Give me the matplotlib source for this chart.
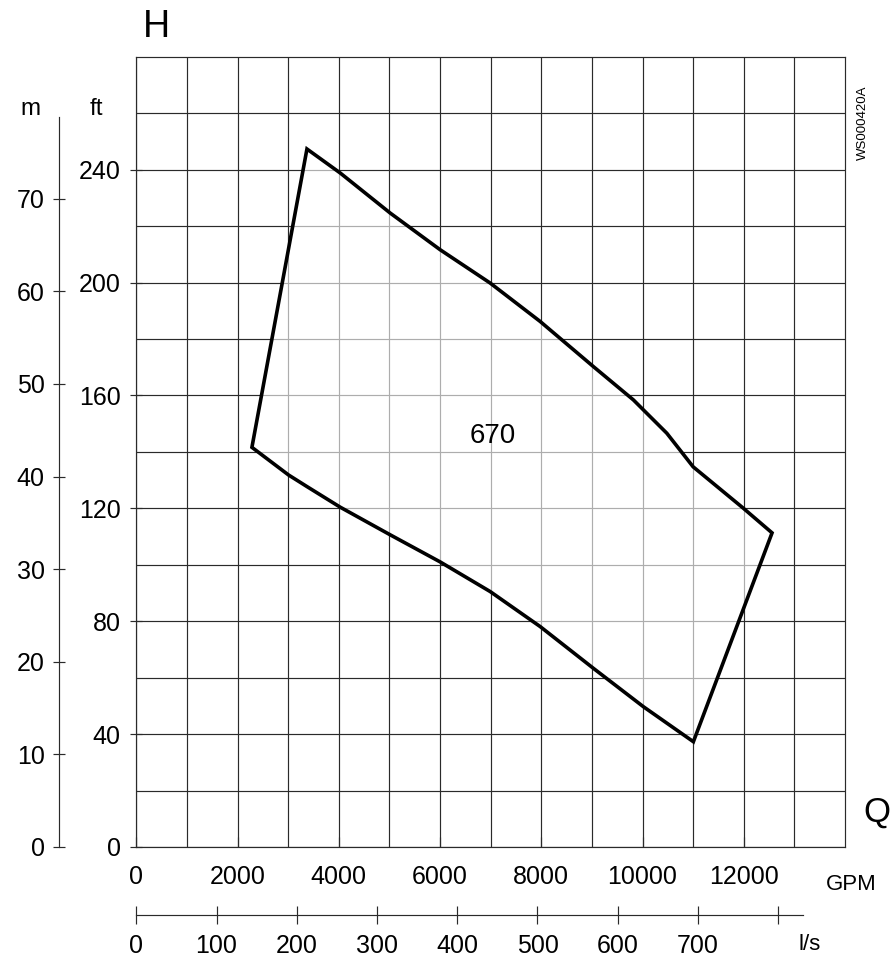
import matplotlib
matplotlib.use("Agg")
import matplotlib.pyplot as plt
from matplotlib.patches import Polygon
import numpy as np

plt.rcParams['font.family'] = ['Liberation Sans', 'DejaVu Sans']

# ---------------- data ----------------
gpm_ticks = [0, 2000, 4000, 6000, 8000, 10000, 12000]
gpm_labels = ['0', '2000', '4000', '6000', '8000', '10000', '12000']
ft_ticks = [0, 40, 80, 120, 160, 200, 240]
m_ticks = [0, 10, 20, 30, 40, 50, 60, 70]
ls_ticks = [0, 100, 200, 300, 400, 500, 600, 700, 800]
ls_labels = ['0', '100', '200', '300', '400', '500', '600', '700', '']

# upper boundary of operating range (GPM, ft)
upper_q = [3371, 4028, 5016, 6003, 6991, 7978, 9030, 9820, 10116, 10480, 11000, 11987, 12559]
upper_h = [247.3, 238.8, 224.6, 211.6, 199.8, 186.2, 170.2, 158.4, 153.1, 146.6, 134.7, 120.1, 111.3]
# lower boundary (GPM, ft)
lower_q = [2284, 3008, 3371, 4028, 5016, 6003, 6991, 7978, 9030, 10018, 11005]
lower_h = [141.6, 131.8, 127.7, 120.4, 110.6, 101.0, 90.5, 78.1, 63.3, 49.7, 37.3]
curve_label = '670'

GPM_TO_LS = 0.0630902
FT_TO_M = 0.3048

# ---------------- figure ----------------
W, H = 896, 958
fig = plt.figure(figsize=(W / 100, H / 100), dpi=100)

def fx(px):
    return px / W

def fy(py):
    return 1 - py / H

ax_l, ax_r, ax_t, ax_b = 136.3, 845, 56.7, 847
ax = fig.add_axes([fx(ax_l), fy(ax_b), fx(ax_r - ax_l), fy(ax_t) - fy(ax_b)])
ax.set_xlim(0, 14000)
ax.set_ylim(0, 280)

gridc = '#2a2a2a'
ax.set_xticks(gpm_ticks)
ax.set_xticklabels(gpm_labels)
ax.set_yticks(ft_ticks)
ax.set_yticklabels([str(v) for v in ft_ticks])
ax.set_xticks(np.arange(1000, 14001, 2000), minor=True)
ax.set_yticks(np.arange(20, 281, 40), minor=True)
ax.grid(which='both', color=gridc, lw=0.85)
ax.set_axisbelow(True)
for s in ax.spines.values():
    s.set_color(gridc)
    s.set_linewidth(0.85)
ax.tick_params(which='minor', length=0)
ax.tick_params(axis='x', which='major', direction='in', length=7, width=0.85,
               color=gridc, labelsize=18, pad=13)
ax.tick_params(axis='y', which='major', direction='inout', length=8.5, width=0.85,
               color=gridc, labelsize=18, pad=7)

# operating range polygon
pts = list(zip(upper_q, upper_h)) + [(lower_q[-1], lower_h[-1])] + \
      list(zip(lower_q[::-1], lower_h[::-1]))
poly = Polygon(pts, closed=True, facecolor='white', alpha=0.62, edgecolor='none', zorder=2)
ax.add_patch(poly)
outline = Polygon(pts, closed=True, fill=False, edgecolor='black', lw=2.6,
                  joinstyle='miter', zorder=3)
ax.add_patch(outline)

ax.text(7050, 145.7, curve_label, ha='center', va='center', fontsize=20, zorder=4)

# m axis
m_top_ft = 258.7
axm = fig.add_axes([fx(58.7), fy(ax_b), 0.001, fy(ax_t) - fy(ax_b)])
axm.set_ylim(0, 280 * FT_TO_M)
axm.patch.set_visible(False)
for k in ['right', 'top', 'bottom']:
    axm.spines[k].set_visible(False)
axm.spines['left'].set_bounds(0, m_top_ft * FT_TO_M)
axm.spines['left'].set_color(gridc)
axm.spines['left'].set_linewidth(0.85)
axm.set_xticks([])
axm.set_yticks(m_ticks)
axm.set_yticklabels([str(v) for v in m_ticks])
axm.tick_params(axis='y', direction='inout', length=8, width=0.85, color=gridc,
                labelsize=18, pad=6)

# l/s axis
ls_y = 915
axs = fig.add_axes([fx(ax_l), fy(ls_y), fx(ax_r - ax_l), 0.001])
axs.set_xlim(0, 14000 * GPM_TO_LS)
axs.patch.set_visible(False)
for k in ['left', 'right', 'top']:
    axs.spines[k].set_visible(False)
axs.spines['bottom'].set_bounds(0, 830.6)
axs.spines['bottom'].set_color(gridc)
axs.spines['bottom'].set_linewidth(0.85)
axs.set_yticks([])
axs.set_xticks(ls_ticks)
axs.set_xticklabels(ls_labels)
axs.tick_params(axis='x', direction='inout', length=13, width=0.85, color=gridc,
                labelsize=18, pad=7)

# free texts
fig.text(fx(156), fy(27), 'H', ha='center', va='center', fontsize=27)
fig.text(fx(877), fy(812), 'Q', ha='center', va='center', fontsize=25)
fig.text(fx(30), fy(115), 'm', ha='center', va='baseline', fontsize=17.5)
fig.text(fx(96), fy(115), 'ft', ha='center', va='baseline', fontsize=17.5)
fig.text(fx(851), fy(885), 'GPM', ha='center', va='center', fontsize=16)
fig.text(fx(810), fy(944), 'l/s', ha='center', va='center', fontsize=16)
fig.text(fx(863), fy(123), 'WS000420A', ha='center', va='center', rotation=90, fontsize=9.5)

fig.savefig('out.png', dpi=100)
